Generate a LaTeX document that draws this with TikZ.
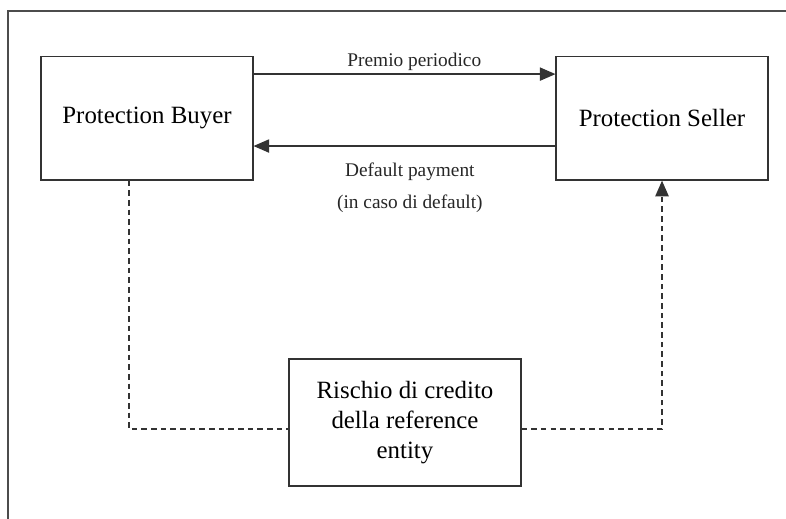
\documentclass[tikz,border=0pt]{standalone}
\usepackage{fontspec}
\setmainfont{Liberation Serif}
\usetikzlibrary{arrows.meta,calc}
\tikzset{
	party/.style={draw=black!80, line width=0.9pt, minimum width=5.39cm, minimum height=3.15cm, font=\fontsize{18}{21.6}\selectfont},
	flow/.style={draw=black!80, line width=0.9pt, -{Triangle[length=4mm,width=3.4mm]}},
	risk/.style={draw=black!80, line width=1pt, dash pattern=on 4pt off 3pt},
	lbl/.style={font=\fontsize{14}{17}\selectfont, text=black!85}
}

\begin{document}
\begin{tikzpicture}
		%%%%% START %%%%%
		\useasboundingbox (0, 0) rectangle (20, 13.206);
		
		\draw[line width=1.2pt, color=black!70] (0.2, 0) -- (0.2, 12.93) -- (20, 12.93);
		
		\node[party] (buyer) at (3.74, 10.2) {Protection Buyer};
		\node[party] (seller) at (16.845, 10.2) {Protection Seller};
		\node[party, minimum width=5.9cm, minimum height=3.23cm, align=center] (rischio) at (10.305, 2.455) {Rischio di credito\\della reference\\entity};
		
		\draw[flow] ([yshift=1.12cm]buyer.east) -- ([yshift=1.12cm]seller.west)
			node[lbl, midway, above, inner sep=2pt, xshift=0.25cm] (premio) {Premio periodico};
		\draw[flow] ([yshift=-0.71cm]seller.west) -- ([yshift=-0.71cm]buyer.east);
		\node[lbl, align=center] (payment) at (10.43, 8.42) {Default payment\\[6pt](in caso di default)};
		
		\draw[risk] ([xshift=-0.46cm]buyer.south) |- ([yshift=-0.17cm]rischio.west);
		\draw[risk, -{Triangle[length=4mm,width=3.4mm]}] ([yshift=-0.17cm]rischio.east) -| (seller.south);
		
		%%%%% END %%%%%
	\end{tikzpicture}
\end{document}
